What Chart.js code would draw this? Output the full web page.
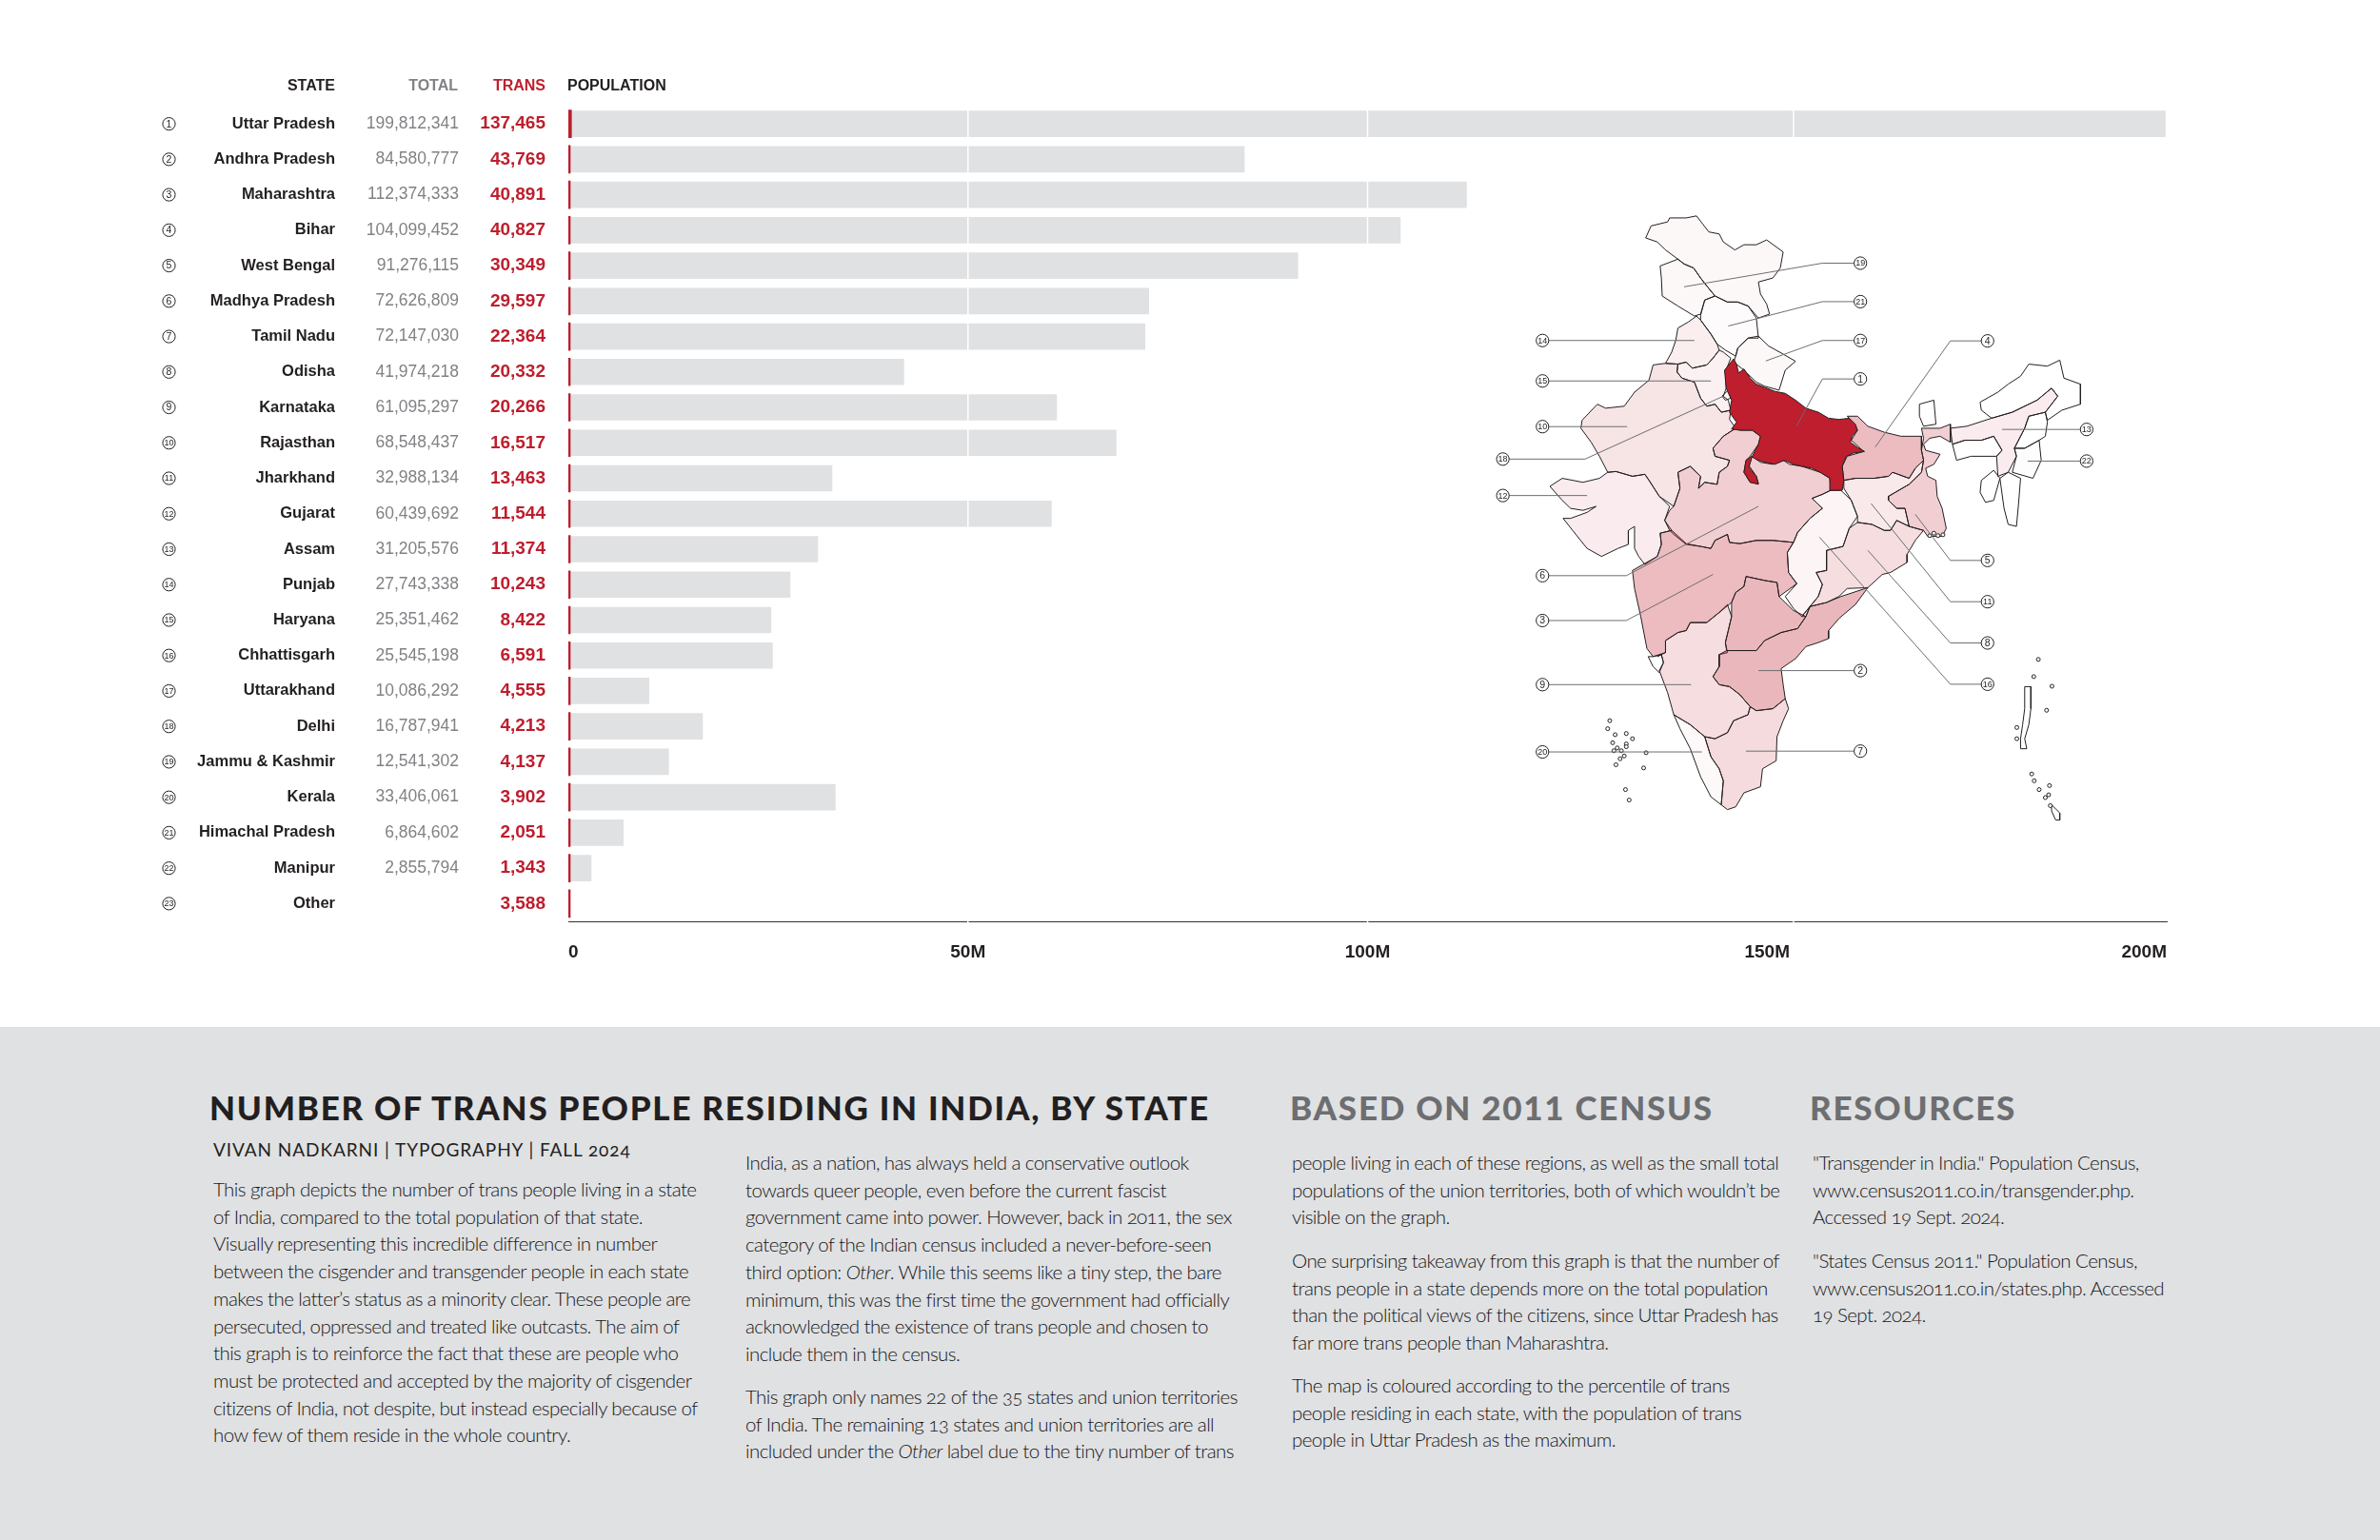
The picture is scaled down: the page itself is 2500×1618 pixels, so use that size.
<!DOCTYPE html>
<html><head><meta charset="utf-8"><title>Number of trans people residing in India, by state</title>
<script src="https://cdn.jsdelivr.net/npm/chart.js@4"></script>
<style>
html,body{margin:0;padding:0;background:#fff;width:2500px;height:1618px;overflow:hidden}
#band{position:absolute;left:0;top:1079px;width:2500px;height:539px;background:#e0e1e3}
#bars{position:absolute;left:0;top:0}
#map{position:absolute;left:1550px;top:210px}
.p,.s{font-variant-numeric:oldstyle-nums}
.h{position:absolute;font-family:Lato;font-weight:900;font-size:35px;line-height:40px;white-space:pre;letter-spacing:1.75px}
.p{position:absolute;font-family:Lato;font-weight:300;font-size:20.5px;line-height:28.7px;white-space:pre;color:#151515;letter-spacing:-.58px}
.s{position:absolute;font-family:Lato;font-weight:400;font-size:19px;line-height:24px;white-space:pre;color:#231f20;letter-spacing:.93px}
</style></head><body>
<div id="band"></div>
<canvas id="bars" width="2500" height="1078"></canvas>
<canvas id="map" width="680" height="660"></canvas>
<div class="h" style="left:220px;top:1143px;color:#231f20">NUMBER OF TRANS PEOPLE RESIDING IN INDIA, BY STATE</div>
<div class="s" style="left:224px;top:1196px">VIVAN NADKARNI | TYPOGRAPHY | FALL 2024</div>
<div class="p" style="left:224px;top:1235px">This graph depicts the number of trans people living in a state
of India, compared to the total population of that state.
Visually representing this incredible difference in number
between the cisgender and transgender people in each state
makes the latter’s status as a minority clear. These people are
persecuted, oppressed and treated like outcasts. The aim of
this graph is to reinforce the fact that these are people who
must be protected and accepted by the majority of cisgender
citizens of India, not despite, but instead especially because of
how few of them reside in the whole country.</div>
<div class="p" style="left:783px;top:1207px">India, as a nation, has always held a conservative outlook
towards queer people, even before the current fascist
government came into power. However, back in 2011, the sex
category of the Indian census included a never-before-seen
third option: <i>Other</i>. While this seems like a tiny step, the bare
minimum, this was the first time the government had officially
acknowledged the existence of trans people and chosen to
include them in the census.</div>
<div class="p" style="left:783px;top:1453px">This graph only names 22 of the 35 states and union territories
of India. The remaining 13 states and union territories are all
included under the <i>Other</i> label due to the tiny number of trans</div>
<div class="h" style="left:1355px;top:1143px;color:#6d6e71">BASED ON 2011 CENSUS</div>
<div class="p" style="left:1357px;top:1207px">people living in each of these regions, as well as the small total
populations of the union territories, both of which wouldn’t be
visible on the graph.</div>
<div class="p" style="left:1357px;top:1310px">One surprising takeaway from this graph is that the number of
trans people in a state depends more on the total population
than the political views of the citizens, since Uttar Pradesh has
far more trans people than Maharashtra.</div>
<div class="p" style="left:1357px;top:1441px">The map is coloured according to the percentile of trans
people residing in each state, with the population of trans
people in Uttar Pradesh as the maximum.</div>
<div class="h" style="left:1901px;top:1143px;color:#6d6e71">RESOURCES</div>
<div class="p" style="left:1904px;top:1207px">"Transgender in India." Population Census,
www.census2011.co.in/transgender.php.
Accessed 19 Sept. 2024.</div>
<div class="p" style="left:1904px;top:1310px">"States Census 2011." Population Census,
www.census2011.co.in/states.php. Accessed
19 Sept. 2024.</div>
<script>
const states=["Uttar Pradesh","Andhra Pradesh","Maharashtra","Bihar","West Bengal","Madhya Pradesh","Tamil Nadu","Odisha","Karnataka","Rajasthan","Jharkhand","Gujarat","Assam","Punjab","Haryana","Chhattisgarh","Uttarakhand","Delhi","Jammu & Kashmir","Kerala","Himachal Pradesh","Manipur","Other"];
const totalPopulation=[199812341,84580777,112374333,104099452,91276115,72626809,72147030,41974218,61095297,68548437,32988134,60439692,31205576,27743338,25351462,25545198,10086292,16787941,12541302,33406061,6864602,2855794,null];
const transPopulation=[137465,43769,40891,40827,30349,29597,22364,20332,20266,16517,13463,11544,11374,10243,8422,6591,4555,4213,4137,3902,2051,1343,3588];
const axisTicks=[0,50e6,100e6,150e6,200e6];
const gridBreaks=[50e6,100e6,153.3e6];
const transAxisMax=70e6;

// map outlines, in map units
const mapJK1=[[412,95],[425,65],[465,55],[470,45],[510,45],[535,40],[550,60],[565,80],[590,85],[600,105],[628,125],[650,112],[680,112],[705,100],[745,130],[738,170],[720,195],[685,205],[690,235],[705,260],[712,285],[685,295],[660,265],[635,255],[610,255],[580,240],[560,215],[545,195],[528,170],[505,160],[490,148],[460,125],[440,105]];
const mapJK2=[[490,148],[447,165],[450,195],[452,240],[490,265],[530,290],[545,285],[555,250],[580,240],[560,215],[545,195],[528,170],[505,160]];
const mapHP=[[545,288],[555,250],[580,240],[610,255],[635,255],[660,265],[680,295],[685,345],[660,345],[635,370],[630,390],[605,375],[585,360],[570,335],[545,300]];
const mapPunjab=[[535,290],[545,300],[570,335],[585,360],[590,375],[575,395],[560,412],[525,420],[510,405],[490,410],[460,408],[475,380],[485,350],[490,320],[515,305]];
const mapHaryana=[[490,410],[510,405],[525,420],[560,412],[575,395],[590,375],[600,380],[618,395],[605,430],[607,470],[600,490],[612,500],[618,525],[595,530],[580,510],[560,515],[545,495],[530,455],[500,445],[488,430]];
const mapDelhi=[[597,490],[612,475],[618,495],[605,500]];
const mapUttarakhand=[[630,390],[635,370],[660,345],[685,340],[710,365],[745,385],[775,403],[750,425],[735,475],[700,465],[680,455],[650,425],[625,405]];
const mapUP=[[625,397],[632,410],[637,432],[650,422],[665,445],[680,460],[700,468],[725,478],[750,483],[775,500],[800,520],[830,530],[855,545],[880,548],[905,545],[920,560],[925,575],[912,590],[908,605],[925,618],[942,628],[915,632],[898,640],[888,665],[892,700],[888,725],[860,725],[858,695],[838,682],[815,670],[790,665],[770,660],[748,650],[725,660],[700,655],[680,648],[668,640],[655,650],[650,680],[665,705],[685,710],[680,690],[662,668],[670,640],[685,610],[690,590],[670,575],[640,575],[620,572],[632,555],[615,530],[620,500],[607,470],[603,425]];
const mapRajasthan=[[430,412],[460,408],[490,410],[488,430],[500,445],[530,455],[545,495],[560,515],[580,510],[595,530],[618,525],[615,548],[630,570],[600,590],[575,620],[580,640],[615,650],[610,665],[590,680],[585,710],[555,705],[540,720],[545,690],[520,665],[490,680],[495,720],[480,765],[445,740],[420,700],[410,685],[380,690],[340,678],[320,680],[300,640],[280,605],[255,570],[258,550],[295,510],[315,520],[360,515],[385,480],[420,450]];
const mapMP=[[640,575],[670,575],[690,590],[685,610],[665,640],[655,650],[650,680],[665,705],[685,708],[680,690],[660,660],[670,640],[690,655],[720,660],[745,650],[760,660],[790,665],[835,680],[858,695],[860,725],[840,735],[815,745],[840,770],[810,795],[780,830],[770,855],[720,850],[680,850],[640,858],[615,855],[610,835],[580,850],[570,870],[545,865],[510,860],[480,835],[470,825],[458,800],[470,775],[480,765],[495,720],[490,680],[520,665],[545,690],[540,720],[555,705],[585,710],[590,680],[610,665],[615,650],[580,640],[575,620],[600,590],[630,570]];
const mapMaharashtra=[[380,925],[440,890],[450,860],[447,832],[475,825],[510,858],[545,865],[570,870],[580,850],[610,835],[615,855],[640,858],[680,850],[720,850],[770,855],[755,880],[758,930],[778,958],[735,990],[730,955],[700,950],[655,940],[650,965],[630,980],[620,1005],[590,1030],[560,1055],[520,1055],[510,1075],[490,1080],[460,1100],[460,1130],[430,1140],[415,1120],[400,1040],[385,970]];
const mapGujarat=[[180,715],[210,695],[260,705],[300,695],[320,680],[340,678],[380,690],[410,685],[420,700],[445,740],[470,765],[458,800],[475,825],[447,832],[450,860],[440,890],[410,910],[395,890],[385,870],[385,815],[370,825],[370,860],[345,870],[305,890],[270,870],[235,825],[212,795],[230,795],[270,780],[292,765],[260,775],[230,770],[210,750]];
const mapKarnataka=[[440,1140],[460,1130],[460,1100],[490,1080],[510,1075],[520,1055],[560,1055],[590,1030],[610,1010],[620,1040],[612,1075],[605,1105],[610,1130],[590,1135],[590,1165],[575,1190],[590,1210],[615,1215],[640,1235],[665,1265],[660,1285],[625,1300],[610,1330],[580,1345],[555,1340],[520,1310],[480,1285],[465,1230],[445,1175],[455,1155],[450,1135]];
const mapGoa=[[418,1140],[430,1140],[450,1135],[455,1155],[445,1180],[430,1165]];
const mapTelangana=[[655,940],[700,950],[730,955],[735,990],[770,1025],[800,1040],[780,1070],[740,1080],[700,1100],[680,1125],[608,1125],[605,1105],[612,1075],[620,1040],[620,1005],[630,980],[650,965]];
const mapAP=[[800,1040],[810,1015],[850,1005],[885,990],[950,968],[920,1010],[880,1045],[855,1075],[855,1095],[830,1105],[800,1115],[775,1145],[740,1170],[745,1210],[750,1245],[720,1270],[680,1275],[665,1265],[640,1235],[615,1215],[590,1210],[575,1190],[590,1165],[590,1135],[608,1125],[680,1125],[700,1100],[740,1080],[780,1070]];
const mapOdisha=[[850,875],[890,865],[905,820],[925,805],[960,810],[990,825],[1005,825],[1020,800],[1050,815],[1085,825],[1065,850],[1045,885],[1045,905],[1005,930],[985,935],[950,968],[900,970],[880,990],[850,1005],[810,1015],[800,1040],[790,1040],[830,990],[840,960],[825,930],[850,925]];
const mapChhattisgarh=[[815,745],[840,735],[860,725],[885,725],[910,750],[925,790],[905,820],[890,865],[850,875],[850,925],[825,930],[840,960],[830,990],[790,1040],[770,1020],[750,990],[778,958],[758,930],[755,880],[770,855],[780,830],[810,795],[840,770]];
const mapJharkhand=[[892,700],[920,695],[965,695],[1000,690],[1010,680],[1050,695],[1065,670],[1085,650],[1080,680],[1050,710],[1000,740],[1000,750],[1020,770],[1040,770],[1050,815],[1020,800],[1005,825],[990,825],[960,810],[925,805],[925,790],[910,750],[892,720]];
const mapBihar=[[905,545],[900,540],[925,540],[950,565],[990,580],[1030,590],[1080,590],[1080,625],[1085,650],[1065,670],[1050,695],[1010,680],[1000,690],[965,695],[920,695],[892,700],[888,665],[900,640],[940,628],[910,600],[925,575]];
const mapWestBengal=[[1080,570],[1125,570],[1150,560],[1150,605],[1125,590],[1100,595],[1085,610],[1090,625],[1125,635],[1110,660],[1090,670],[1095,690],[1115,700],[1118,740],[1130,770],[1140,820],[1130,840],[1095,840],[1085,825],[1050,815],[1040,770],[1020,770],[1000,750],[1000,740],[1050,710],[1080,680],[1085,650],[1080,625],[1085,595]];
const mapSikkim=[[1075,510],[1110,500],[1115,560],[1085,565],[1075,540]];
const mapAssam=[[1150,570],[1190,565],[1250,545],[1300,530],[1360,500],[1395,470],[1410,490],[1380,530],[1340,540],[1330,570],[1305,620],[1310,640],[1290,680],[1265,690],[1262,640],[1275,625],[1255,590],[1225,600],[1185,600],[1155,610]];
const mapArunachal=[[1222,505],[1265,480],[1290,460],[1320,440],[1340,410],[1385,415],[1415,400],[1425,445],[1465,460],[1465,510],[1420,525],[1385,550],[1380,530],[1410,490],[1395,470],[1360,500],[1300,530],[1250,545],[1225,525]];
const mapMeghalaya=[[1155,610],[1185,600],[1225,600],[1255,590],[1275,625],[1262,640],[1200,640],[1165,650]];
const mapNagaland=[[1340,540],[1380,530],[1385,555],[1380,590],[1365,600],[1330,620],[1305,620],[1330,570]];
const mapManipur=[[1330,620],[1365,600],[1370,650],[1350,695],[1300,680],[1310,640],[1305,620]];
const mapTripura=[[1225,700],[1255,675],[1270,695],[1255,750],[1235,755],[1222,730]];
const mapMizoram=[[1270,695],[1290,680],[1320,695],[1315,760],[1310,815],[1290,810],[1280,770]];
const mapTamilNadu=[[665,1265],[680,1275],[720,1270],[750,1245],[758,1270],[745,1300],[730,1340],[728,1400],[695,1420],[690,1465],[650,1480],[630,1515],[610,1522],[595,1510],[600,1450],[590,1420],[570,1390],[555,1340],[580,1345],[610,1330],[625,1300],[660,1285]];
const mapKerala=[[480,1285],[520,1310],[555,1340],[570,1390],[590,1420],[600,1450],[595,1510],[570,1490],[545,1440],[520,1370],[495,1320]];
const mapAndaman=[[1330,1215],[1345,1215],[1345,1270],[1340,1310],[1330,1345],[1335,1370],[1320,1370],[1320,1345],[1325,1310],[1330,1270]];
const mapNicobar=[[1395,1510],[1415,1530],[1415,1548],[1405,1548],[1395,1525]];
const mapIslets=[[325,1300],[320,1320],[338,1335],[365,1332],[380,1345],[332,1355],[365,1358],[343,1368],[335,1375],[353,1375],[413,1380],[365,1365],[360,1388],[350,1395],[340,1410],[407,1418],[363,1472],[372,1498],[1363,1147],[1352,1190],[1396,1214],[1383,1274],[1311,1317],[1311,1345],[1347,1433],[1353,1450],[1390,1462],[1365,1472],[1388,1485],[1380,1492],[1392,1512],[1100,838],[1110,832],[1120,838],[1132,836]];

// state shape -> index into the data arrays (-1: no data of its own)
const mapShapes=[[mapUP,0],[mapTelangana,1],[mapAP,1],[mapMaharashtra,2],[mapBihar,3],[mapWestBengal,4],[mapMP,5],[mapTamilNadu,6],[mapOdisha,7],[mapKarnataka,8],[mapRajasthan,9],[mapJharkhand,10],[mapGujarat,11],[mapAssam,12],[mapPunjab,13],[mapHaryana,14],[mapChhattisgarh,15],[mapUttarakhand,16],[mapDelhi,17],[mapJK1,18],[mapJK2,18],[mapKerala,19],[mapHP,20],[mapManipur,21],[mapGoa,-1],[mapSikkim,-1],[mapArunachal,-1],[mapMeghalaya,-1],[mapNagaland,-1],[mapTripura,-1],[mapMizoram,-1],[mapAndaman,-1],[mapNicobar,-1]];

const leaderRanks=[19,21,17,1,4,13,22,14,15,10,18,12,6,3,9,20,2,7,5,11,8,16];
const leaderPaths=[
[[505,217],[840,158],[932,158]],[[612,315],[840,254],[932,254]],[[703,402],[840,351],[932,351]],[[777,565],[840,447],[932,447]],
[[968,617],[1150,352],[1240,352]],[[1275,573],[1480,573]],[[1337,652],[1480,652]],[[530,351],[162,351]],[[570,452],[162,452]],
[[367,566],[162,566]],[[600,490],[265,647],[66,647]],[[270,738],[66,738]],[[685,765],[365,938],[162,938]],[[575,935],[365,1050],[162,1050]],
[[522,1210],[162,1210]],[[548,1378],[162,1378]],[[685,1175],[932,1175]],[[655,1376],[932,1376]],[[1065,785],[1150,900],[1240,900]],
[[958,758],[1150,1003],[1240,1003]],[[950,875],[1150,1106],[1240,1106]],[[833,842],[1150,1209],[1240,1209]]];

const RED='#be1e2d',DARK='#231f20',GREY='#808285',BAR='#e0e1e3';
const SANS='"Liberation Sans"';
const fmt=v=>v==null?'':v.toLocaleString('en-US');

const tablePlugin={id:'table',afterDatasetsDraw(c){
  const g=c.ctx,y=c.scales.y,x=c.scales.x,a=c.chartArea;
  g.save();
  g.strokeStyle='#fff';g.lineWidth=1.5;
  gridBreaks.forEach(v=>{const px=x.getPixelForValue(v);g.beginPath();g.moveTo(px,a.top);g.lineTo(px,a.bottom+1.5);g.stroke();});
  g.textBaseline='middle';
  const head=[['STATE',352,'right',DARK],['TOTAL',481,'right',GREY],['TRANS',573,'right',RED],['POPULATION',596,'left',DARK]];
  g.font='bold 16px '+SANS;
  head.forEach(h=>{g.textAlign=h[2];g.fillStyle=h[3];g.fillText(h[0],h[1],91);});
  states.forEach((s,i)=>{
    const py=y.getPixelForValue(i);
    g.textAlign='right';
    g.font='17.5px '+SANS;g.fillStyle=GREY;g.fillText(fmt(totalPopulation[i]),482,py);
    g.font='bold 19px '+SANS;g.fillStyle=RED;g.fillText(fmt(transPopulation[i]),573,py);
    g.beginPath();g.arc(177.5,py,6.6,0,Math.PI*2);g.strokeStyle=DARK;g.lineWidth=1;g.stroke();
    g.textAlign='center';g.fillStyle=DARK;g.font=(i<9?'10.5px ':'9px ')+SANS;g.fillText(String(i+1),177.5,py+.5);
  });
  g.restore();
}};

new Chart(document.getElementById('bars'),{
  type:'bar',
  plugins:[tablePlugin],
  data:{labels:states,datasets:[
    {label:'Trans',data:transPopulation,xAxisID:'xTrans',backgroundColor:RED,barThickness:29,minBarLength:2,order:0,grouped:false},
    {label:'Total',data:totalPopulation,xAxisID:'x',backgroundColor:BAR,barThickness:27,order:1,grouped:false}
  ]},
  options:{indexAxis:'y',responsive:false,animation:false,devicePixelRatio:1,
    layout:{autoPadding:false,padding:{top:111.5,right:224,left:0,bottom:0}},
    plugins:{legend:{display:false},tooltip:{enabled:false}},
    scales:{
      y:{type:'category',grid:{display:false,drawTicks:false},border:{display:false},
        afterFit(s){s.width=597;s.paddingTop=0;s.paddingBottom=0;},
        ticks:{autoSkip:false,padding:245,color:DARK,font:{family:SANS,size:16.5,weight:'bold'}}},
      x:{type:'linear',position:'bottom',min:0,max:200e6,grid:{display:false,drawTicks:false},border:{display:true,color:'#333333',width:1},
        afterBuildTicks(s){s.ticks=axisTicks.map(value=>({value}));},
        afterFit(s){s.height=110;s.paddingLeft=0;s.paddingRight=0;},
        ticks:{align:'inner',padding:21,maxRotation:0,autoSkip:false,color:DARK,font:{family:SANS,size:19,weight:'bold'},callback:v=>v===0?'0':(v/1e6)+'M'}},
      xTrans:{axis:'x',type:'linear',display:false,min:0,max:transAxisMax}
    }
  }
});

const pts=a=>a.map(p=>({x:p[0],y:p[1]}));
const shapeDatasets=mapShapes.map(([shape,idx])=>{
  const alpha=idx<0?0:transPopulation[idx]/transPopulation[0];
  return {type:'scatter',showLine:true,data:pts(shape.concat([shape[0]])),fill:'shape',tension:0,
    backgroundColor:`rgba(190,30,45,${alpha})`,borderColor:DARK,borderWidth:1,pointRadius:0,borderJoinStyle:'round',order:3,clip:false};
});
const leaderDatasets=leaderPaths.map(path=>({type:'scatter',showLine:true,data:pts(path),fill:false,tension:0,borderColor:'#6d6e71',borderWidth:1,pointRadius:0,order:2,clip:false}));
const badgeDataset={type:'scatter',data:pts(leaderPaths.map(p=>p[p.length-1])),pointRadius:6.6,pointBackgroundColor:'#fff',pointBorderColor:DARK,pointBorderWidth:1,order:1,showLine:false};
const isletDataset={type:'scatter',data:pts(mapIslets),pointRadius:2,pointBackgroundColor:'#fff',pointBorderColor:DARK,pointBorderWidth:1,order:2,showLine:false};
const badgeText={id:'badgeText',afterDatasetsDraw(c){
  const g=c.ctx,sx=c.scales.x,sy=c.scales.y;g.save();g.fillStyle=DARK;g.textAlign='center';g.textBaseline='middle';
  leaderPaths.forEach((p,i)=>{const e=p[p.length-1],r=leaderRanks[i];g.font=(r<10?'10.5px ':'9px ')+SANS;g.fillText(String(r),sx.getPixelForValue(e[0]),sy.getPixelForValue(e[1])+.5);});
  g.restore();
}};
new Chart(document.getElementById('map'),{
  type:'scatter',plugins:[badgeText],
  data:{datasets:[...shapeDatasets,...leaderDatasets,isletDataset,badgeDataset]},
  options:{responsive:false,animation:false,devicePixelRatio:1,layout:{autoPadding:false,padding:0},
    plugins:{legend:{display:false},tooltip:{enabled:false},filler:{propagate:false}},
    scales:{x:{type:'linear',display:false,min:0,max:1568},y:{type:'linear',display:false,min:0,max:1568,reverse:true}}}
});
</script></body></html>
